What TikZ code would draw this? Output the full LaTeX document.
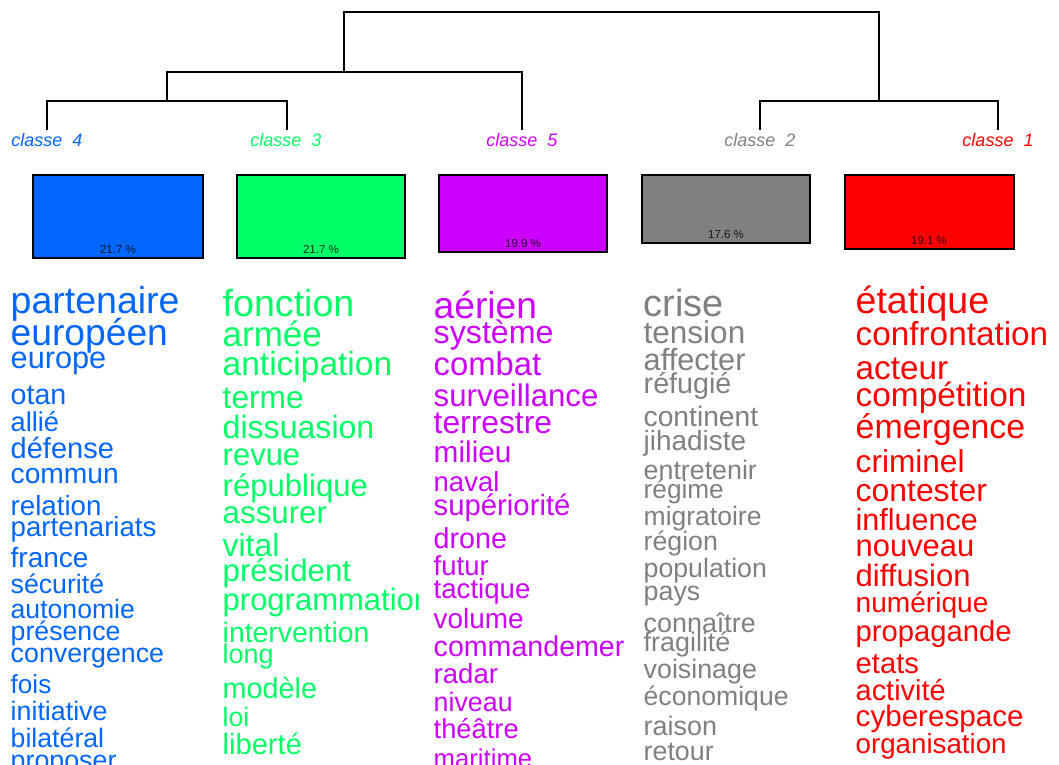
\documentclass[tikz,border=0pt]{standalone}
\usepackage{fontspec}
\setmainfont{Liberation Sans}
\definecolor{cblue}{HTML}{0066FF}
\definecolor{cgreen}{HTML}{00FF66}
\definecolor{cpurple}{HTML}{CC00FF}
\definecolor{cgray}{HTML}{808080}
\definecolor{cred}{HTML}{FF0000}
\tikzset{
  tree/.style={line width=1.5pt, black},
  clabel/.style={anchor=base, inner sep=0pt, font=\fontsize{18}{18}\selectfont\itshape},
  classbox/.style={draw=black, line width=1.5pt},
  pct/.style={anchor=base, inner sep=0pt, text=black, text opacity=0.8, font=\fontsize{11.5}{11.5}\selectfont},
  word/.style={anchor=base west, inner sep=0pt}
}
\begin{document}
\begin{tikzpicture}[x=1pt,y=-1pt]
\useasboundingbox (0,0) rectangle (1059,764);
\fill[white] (0,0) rectangle (1059,764);
\clip (0,0) rectangle (1059,764);
% dendrogram
\coordinate (l4) at (47,130); \coordinate (l3) at (287,130);
\coordinate (l5) at (522,130); \coordinate (l2) at (760,130);
\coordinate (l1) at (998,130);
\coordinate (n43) at (167,101); \coordinate (n435) at (344,72);
\coordinate (n21) at (879,101); \coordinate (root) at (344,12);
\draw[tree] (l4) |- (n43) -| (l3);
\draw[tree] (n43) |- (n435) -| (l5);
\draw[tree] (l2) |- (n21) -| (l1);
\draw[tree] (n435) |- (root) -| (n21);
% class labels
\node[clabel, text=cblue]   (t4) at (47,146)  {classe~~4};
\node[clabel, text=cgreen]  (t3) at (286,146) {classe~~3};
\node[clabel, text=cpurple] (t5) at (522,146) {classe~~5};
\node[clabel, text=cgray]   (t2) at (760,146) {classe~~2};
\node[clabel, text=cred]    (t1) at (998,146) {classe~~1};
% boxes
\draw[classbox, fill=cblue]   (33,175) rectangle (203,258) coordinate (b4);
\draw[classbox, fill=cgreen]  (237,175) rectangle (405,258) coordinate (b3);
\draw[classbox, fill=cpurple] (439,175) rectangle (607,252) coordinate (b5);
\draw[classbox, fill=cgray]   (642,175) rectangle (810,243) coordinate (b2);
\draw[classbox, fill=cred]    (845,175) rectangle (1014,249) coordinate (b1);
\node[pct] (p4) at (118,253) {21.7 \%};
\node[pct] (p3) at (321,253) {21.7 \%};
\node[pct] (p5) at (523,247) {19.9 \%};
\node[pct] (p2) at (726,238) {17.6 \%};
\node[pct] (p1) at (929,244) {19.1 \%};
% column 4 (blue)
\foreach \s/\y/\t [count=\i] in {37.5/313/partenaire, 37.2/345/européen, 30.7/368/europe,
  28.6/404/otan, 27.2/431.5/allié, 29/458/défense, 28.2/483/commun, 27.7/515/relation,
  27.6/536.5/partenariats, 28/567/france, 26.7/593/sécurité, 26.6/618/autonomie,
  26.7/640/présence, 26.8/662.5/convergence, 26.1/693/fois, 26.8/720.5/initiative,
  26.7/747.5/bilatéral, 26.8/769/proposer}
  \node[word, text=cblue, font=\fontsize{\s}{\s}\selectfont] (wa\i) at (10.5,\y) {\t};
% column 3 (green), clipped
\begin{scope}
\clip (0,0) rectangle (418,764);
\foreach \s/\y/\t [count=\i] in {37.6/316.5/fonction, 35/346.5/armée, 33.5/375/anticipation,
  31.7/408/terme, 32.1/438/dissuasion, 31/465.5/revue, 31.1/496/république,
  31.3/523/assurer, 31.9/556/vital, 31.2/581.5/président, 31/610/programmation,
  28.4/642.5/intervention, 27/663/long, 28.8/698/modèle, 26.7/726.5/loi, 29.1/754.5/liberté}
  \node[word, text=cgreen, font=\fontsize{\s}{\s}\selectfont] (wb\i) at (222.5,\y) {\t};
\end{scope}
% column 5 (purple)
\foreach \s/\y/\t [count=\i] in {37.2/318/aérien, 32.2/343/système, 32.8/375.5/combat,
  31.2/406.5/surveillance, 31.8/433/terrestre, 29.8/462.5/milieu, 27.5/491.5/naval,
  29.3/515/supériorité, 28.7/548/drone, 27.5/575/futur, 27.6/598/tactique,
  27.9/628/volume, 28.6/656.5/commandemer, 27.6/683/radar, 26.8/711.5/niveau,
  27.3/738/théâtre, 25.7/767/maritime}
  \node[word, text=cpurple, font=\fontsize{\s}{\s}\selectfont] (wc\i) at (433.5,\y) {\t};
% column 2 (gray)
\foreach \s/\y/\t [count=\i] in {37.9/316.5/crise, 31.5/343/tension, 30.7/370.5/affecter,
  28.7/393/réfugié, 28.2/426.5/continent, 27.9/450/jihadiste, 26.8/479/entretenir,
  26.2/498/régime, 26.5/525/migratoire, 26.7/550.5/région, 26.7/577/population,
  26.8/600.5/pays, 26.9/632.5/connaître, 26.9/651.5/fragilité, 26.8/678/voisinage,
  26.6/705/économique, 26.9/735/raison, 26.8/760/retour}
  \node[word, text=cgray, font=\fontsize{\s}{\s}\selectfont] (wd\i) at (643.5,\y) {\t};
% column 1 (red)
\foreach \s/\y/\t [count=\i] in {37.5/313/étatique, 33.3/345/confrontation, 33.3/379/acteur,
  33.4/406.5/compétition, 33.9/438/émergence, 31.6/472.5/criminel, 31.9/501.5/contester,
  30.5/530/influence, 30.9/556/nouveau, 31/586.5/diffusion, 28.1/612.5/numérique,
  29.2/641.5/propagande, 29.2/673/etats, 28.9/700.5/activité, 29.6/726.5/cyberespace,
  27.7/753.5/organisation}
  \node[word, text=cred, font=\fontsize{\s}{\s}\selectfont] (we\i) at (855.5,\y) {\t};
\end{tikzpicture}
\end{document}
